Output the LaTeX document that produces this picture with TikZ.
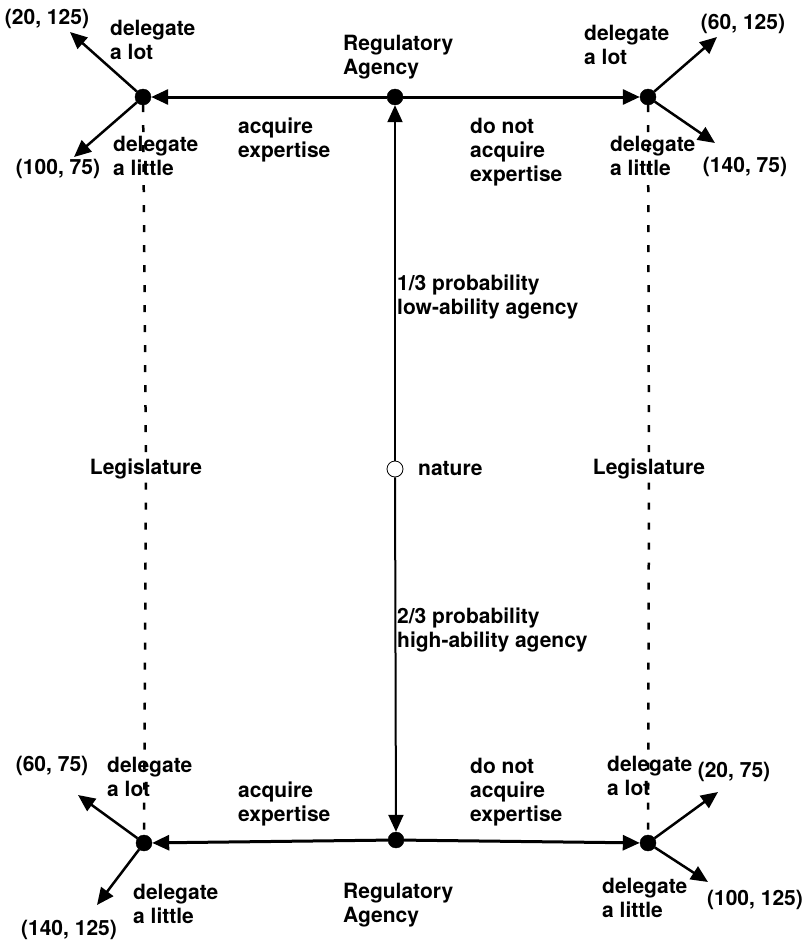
\documentclass[tikz,border=0pt]{standalone}
\usepackage{fontspec}
\setmainfont{TeX Gyre Heros}
\usetikzlibrary{positioning, arrows.meta}
\tikzset{
    >={Triangle[length=17pt, width=15pt]}, % big solid arrow heads
    every node/.style={font=\bfseries\fontsize{21}{24}\selectfont}, % bold sans labels
    move/.style={draw, circle, fill=black, minimum size=16pt, inner sep=0pt}, % decision node
    chance/.style={draw, circle, fill=white, line width=0.8pt, minimum size=16pt, inner sep=0pt}, % nature
    lbl/.style={align=left, anchor=west, inner sep=0pt}, % text beside the branches
    pay/.style={inner sep=0pt}, % payoffs
    branch/.style={->, line width=2.5pt},
    infoset/.style={line width=2.5pt, dash pattern=on 7pt off 13pt}, % same information set
    node distance=252pt, % from agency to legislature
}

\begin{document}
\begin{tikzpicture}[x=1pt, y=-1pt]
    \useasboundingbox (0,0) rectangle (810,940);
    % low-ability agency
    \node[move] (ra1) at (395,97) {};
    \node[move, left of=ra1] (lg1) {};
    \node[move, right of=ra1, xshift=1pt] (lg2) {};
    % nature
    \node[chance] (nat) at (395,469) {};
    \node[lbl] (natxt) at (418,469) {nature};
    % high-ability agency
    \node[move] (ra2) at (396,840) {};
    \node[move] (lg3) at (144,843) {};
    \node[move] (lg4) at (648,843) {};
    % legislature
    \node (leg1) at (146,469) {Legislature};
    \node (leg2) at (649,469) {Legislature};
    % ends of the last moves
    \coordinate (e1) at (70,32);
    \coordinate (e2) at (74,157);
    \coordinate (e3) at (717,37);
    \coordinate (e4) at (715,143);
    \coordinate (e5) at (78,795);
    \coordinate (e6) at (97,905);
    \coordinate (e7) at (718,792);
    \coordinate (e8) at (708,882);

    \draw[->, line width=2pt] (nat) -- (ra1);
    \draw[->, line width=2pt] (nat) -- (ra2);
    \draw[branch, line width=3pt] (ra1) -- (lg1);
    \draw[branch, line width=3pt] (ra1) -- (lg2);
    \draw[branch, line width=3pt] (ra2) -- (lg3);
    \draw[branch, line width=3pt] (ra2) -- (lg4);
    \draw[branch] (lg1) -- (e1);
    \draw[branch] (lg1) -- (e2);
    \draw[branch] (lg2) -- (e3);
    \draw[branch] (lg2) -- (e4);
    \draw[branch] (lg3) -- (e5);
    \draw[branch] (lg3) -- (e6);
    \draw[branch] (lg4) -- (e7);
    \draw[branch] (lg4) -- (e8);
    \draw[infoset] (lg1) -- (leg1);
    \draw[infoset] (leg1) -- (lg3);
    \draw[infoset] (lg2) -- (leg2);
    \draw[infoset] (leg2) -- (lg4);

    % labels, top half
    \node[lbl] (ratxt1) at (343,57) {Regulatory\\Agency};
    \node[lbl] (acq1) at (238,140) {acquire\\expertise};
    \node[lbl] (noacq1) at (470,152) {do not\\acquire\\expertise};
    \node[lbl] (lot1) at (110,40) {delegate\\a lot};
    \node[lbl] (lit1) at (113,156) {delegate\\a little};
    \node[lbl] (lot2) at (584,45) {delegate\\a lot};
    \node[lbl] (lit2) at (610,156) {delegate\\a little};
    \node[lbl] (low) at (397,297) {1/3 probability\\low-ability agency};
    \node[pay] (p1) at (47,19) {(20, 125)};
    \node[pay] (p2) at (58,169) {(100, 75)};
    \node[pay] (p3) at (743,24) {(60, 125)};
    \node[pay] (p4) at (745,167) {(140, 75)};

    % labels, bottom half
    \node[lbl] (high) at (397,630) {2/3 probability\\high-ability agency};
    \node[lbl] (ratxt2) at (343,905) {Regulatory\\Agency};
    \node[lbl] (acq2) at (238,804) {acquire\\expertise};
    \node[lbl] (noacq2) at (470,792) {do not\\acquire\\expertise};
    \node[lbl] (lot3) at (107,777) {delegate\\a lot};
    \node[lbl] (lit3) at (133,904) {delegate\\a little};
    \node[lbl] (lot4) at (607,776) {delegate\\a lot};
    \node[lbl] (lit4) at (602,898) {delegate\\a little};
    \node[pay] (p5) at (52,766) {(60, 75)};
    \node[pay] (p6) at (69,930) {(140, 125)};
    \node[pay] (p7) at (734,772) {(20, 75)};
    \node[pay] (p8) at (755,900) {(100, 125)};
\end{tikzpicture}
\end{document}
